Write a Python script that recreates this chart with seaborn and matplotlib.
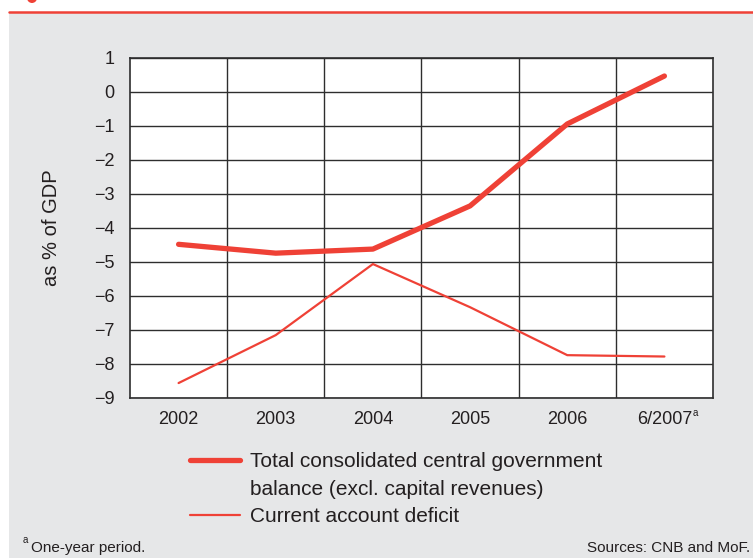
import numpy as np
import pandas as pd
import matplotlib
matplotlib.use("Agg")
import matplotlib.pyplot as plt
from matplotlib.patches import Rectangle, Ellipse
from matplotlib.lines import Line2D
import seaborn as sns

# data
periods = ["2002", "2003", "2004", "2005", "2006", "6/2007"]
gov_balance = [-4.48, -4.74, -4.62, -3.35, -0.94, 0.47]
current_account = [-8.56, -7.15, -5.06, -6.33, -7.74, -7.78]
yticks = list(range(-9, 2))

label_gov = ["Total consolidated central government", "balance (excl. capital revenues)"]
label_ca = "Current account deficit"

RED = "#ef4136"
GRID = "#2e2e2e"
BG = "#e6e7e8"
TXT = "#231f20"

sns.set_style("white")
plt.rcParams["font.family"] = ["Liberation Sans", "DejaVu Sans"]

fig = plt.figure(figsize=(7.53, 5.58), dpi=100, facecolor="white")
W, H = 753.0, 558.0

# grey panel, red rule on top and the clipped red marker above it
fig.patches.append(Rectangle((9 / W, 0), 1 - 9 / W, (H - 13) / H,
                             transform=fig.transFigure, facecolor=BG,
                             edgecolor="none", zorder=-2))
fig.lines.append(Line2D([9 / W, 1], [(H - 12) / H] * 2, transform=fig.transFigure,
                        color=RED, lw=1.8, zorder=-1))
fig.patches.append(Ellipse((32 / W, (H + 2) / H), 10 / W, 10 / H,
                           transform=fig.transFigure, facecolor=RED,
                           edgecolor="none", zorder=-1))

ax = fig.add_axes([130 / W, 160 / H, 583 / W, 340 / H])
ax.set_facecolor("white")

xpos = np.arange(len(periods))
df = pd.DataFrame({"x": np.concatenate([xpos, xpos]),
                   "value": gov_balance + current_account,
                   "series": ["gov"] * len(periods) + ["ca"] * len(periods)})

sns.lineplot(data=df[df.series == "gov"], x="x", y="value", ax=ax,
             color=RED, linewidth=3.8, zorder=3)
sns.lineplot(data=df[df.series == "ca"], x="x", y="value", ax=ax,
             color=RED, linewidth=1.6, zorder=3)

ax.set_xlim(-0.5, len(periods) - 0.5)
ax.set_ylim(-9, 1)
ax.set_xticks(xpos)
ax.set_xticklabels(periods)
ax.set_xticks(xpos[:-1] + 0.5, minor=True)
ax.set_yticks(yticks)
ax.set_yticklabels([str(v).replace("-", "\u2212") for v in yticks])
ax.tick_params(axis="both", which="both", length=0, labelsize=13, colors=TXT)
ax.tick_params(axis="y", pad=11)
ax.tick_params(axis="x", pad=9)
ax.grid(True, axis="y", which="major", color=GRID, lw=1)
ax.grid(True, axis="x", which="minor", color=GRID, lw=1)
ax.grid(False, axis="x", which="major")
for s in ax.spines.values():
    s.set_color(GRID)
    s.set_linewidth(1.2)
ax.set_xlabel("")
ax.set_ylabel("as % of GDP", fontsize=14.5, color=TXT, labelpad=24)

# superscript on the last period label
ax.annotate("a", xy=(len(periods) - 1, 0), xycoords=("data", "axes fraction"),
            xytext=(20.5, -11), textcoords="offset points", fontsize=7,
            color=TXT, ha="left", va="center")

handles = [Line2D([], [], color=RED, lw=3.8),
           Line2D([], [], color="none", lw=0),
           Line2D([], [], color=RED, lw=1.6)]
labels = label_gov + [label_ca]
leg = fig.legend(handles, labels, loc="upper left",
                 bbox_to_anchor=(190 / W, (H - 452) / H), frameon=False,
                 fontsize=15, handlelength=2.4, handletextpad=0.48,
                 borderpad=0, borderaxespad=0, labelspacing=0.42)
for t in leg.get_texts():
    t.set_color(TXT)

fig.text(23 / W, (H - 545) / H, "a", fontsize=7, color=TXT, va="bottom")
fig.text(31 / W, (H - 552) / H, "One-year period.", fontsize=11, color=TXT)
fig.text(750 / W, (H - 552) / H, "Sources: CNB and MoF.", fontsize=11,
         color=TXT, ha="right")

fig.savefig("out.png", dpi=100, facecolor="white")
